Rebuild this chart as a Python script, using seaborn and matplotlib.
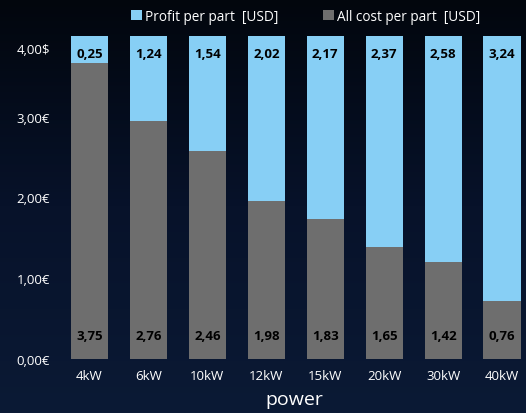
import numpy as np
import pandas as pd
import matplotlib
matplotlib.use("Agg")
import matplotlib.pyplot as plt
import matplotlib.transforms as mtrans
import seaborn as sns
from matplotlib.patches import Patch
from matplotlib.colors import LinearSegmentedColormap

categories = ["4kW", "6kW", "10kW", "12kW", "15kW", "20kW", "30kW", "40kW"]
# bar heights as drawn in the picture (total bar = 4.00)
total_bar = [4.00, 4.00, 4.00, 4.00, 4.00, 4.00, 4.00, 4.00]
cost_bar = [3.66, 2.94, 2.57, 1.95, 1.73, 1.39, 1.20, 0.72]
# value labels as printed on the bars
profit_labels = ["0,25", "1,24", "1,54", "2,02", "2,17", "2,37", "2,58", "3,24"]
cost_labels = ["3,75", "2,76", "2,46", "1,98", "1,83", "1,65", "1,42", "0,76"]
ytick_values = [0, 1, 2, 3, 4]
ytick_labels = ["0,00€", "1,00€", "2,00€", "3,00€", "4,00$"]

sns.set_theme(style="dark")
plt.rcParams['font.family'] = ['Open Sans', 'DejaVu Sans']

BLUE = "#87cff5"
GRAY = "#6e6e6e"

df = pd.DataFrame({"power": categories, "total": total_bar, "cost": cost_bar})

fig = plt.figure(figsize=(5.26, 4.14), dpi=100)

# gradient background
bg = fig.add_axes([0, 0, 1, 1], zorder=-10)
grad = np.linspace(0, 1, 256).reshape(-1, 1)
cmap = LinearSegmentedColormap.from_list("bg", ["#02060d", "#07122a", "#0b1a35"])
bg.imshow(grad, aspect="auto", cmap=cmap, extent=[0, 1, 0, 1], origin="upper")
bg.axis("off")

ax = fig.add_axes([63 / 526, 54 / 414, 462.6 / 526, 323.3 / 414])
ax.set_facecolor("none")

sns.barplot(data=df, x="power", y="total", color=BLUE, width=0.63, ax=ax,
            saturation=1, edgecolor="none")
sns.barplot(data=df, x="power", y="cost", color=GRAY, width=0.63, ax=ax,
            saturation=1, edgecolor="none")

ax.set_xlim(-0.45, 7.4)
ax.set_ylim(0, 4)
ax.set_yticks(ytick_values)
ax.set_yticklabels(ytick_labels)
ax.tick_params(axis="both", length=0, colors="white", labelsize=9.5)
ax.tick_params(axis="y", pad=9.5)
ax.tick_params(axis="x", pad=7)
ax.grid(False)
for s in ax.spines.values():
    s.set_visible(False)
ax.set_ylabel("")
ax.set_xlabel("power", color="white", fontsize=14, labelpad=6)

# top y label sits a bit lower in the reference (12 px)
top_lbl = ax.get_yticklabels()[-1]
top_lbl.set_transform(top_lbl.get_transform() +
                      mtrans.ScaledTranslation(0, -0.12, fig.dpi_scale_trans))

for i, (pl, cl, t) in enumerate(zip(profit_labels, cost_labels, total_bar)):
    ax.annotate(pl, (i, t), xytext=(0, -12.5),
                textcoords="offset points", ha="center", va="center",
                fontsize=9.5, fontweight="bold", color="black")
    ax.annotate(cl, (i, 0), xytext=(0, 16.8),
                textcoords="offset points", ha="center", va="center",
                fontsize=9.5, fontweight="bold", color="black")

handles = [Patch(facecolor=BLUE, edgecolor="none", label="Profit per part  [USD]"),
           Patch(facecolor=GRAY, edgecolor="none", label="All cost per part  [USD]")]
leg = fig.legend(handles=handles, loc="center", bbox_to_anchor=(305.5 / 526, 1 - 17.5 / 414),
                 ncol=2, frameon=False, handlelength=0.8, handleheight=0.8,
                 handletextpad=0.2, columnspacing=3.3, fontsize=9.8)
for txt in leg.get_texts():
    txt.set_color("white")

fig.savefig("out.png", dpi=100)
